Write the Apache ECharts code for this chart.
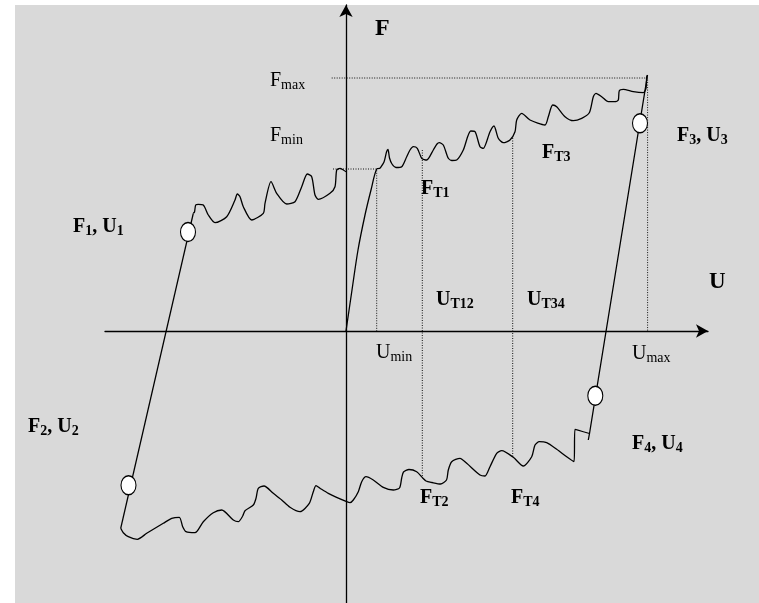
<!DOCTYPE html>
<html>
<head>
<meta charset="utf-8">
<script src="https://cdn.jsdelivr.net/npm/echarts@6/dist/echarts.min.js"></script>
<style>html,body{margin:0;padding:0;background:#fff}#c{width:759px;height:603px}</style>
</head>
<body>
<div id="c"></div>
<script>
// Hysteresis loop (U, F) in drawing units; origin at axis crossing
const originRise = [[0,0],[6,41],[12,81],[19,116],[25,141],[30.7,162],[34,162.7]];
const upperRight = [[34,162.7],[38,169],[40.5,179],[42,181.5],[43.5,173],[46,167],[50,163.5],[55.7,164.3],[60.7,174.3],[64,181],[67.3,184.3],[71.3,182.7],[75.7,172.7],[80.7,171],[87.3,181],[91,187],[93.3,188.3],[97.3,186],[102.3,172.7],[106,170.5],[110.7,171],[117.3,181],[124.7,200],[129,199.3],[134,184.3],[137.3,182.7],[144,199.3],[148,205],[152.3,192.7],[157.3,188.3],[164,191],[169,199.3],[170.7,211],[175.7,217.7],[184,211],[199,206],[202.3,214.3],[206.7,226],[210.7,224.3],[219,214.3],[227.3,210.3],[235.7,212.7],[243.3,218.3],[247.3,234.3],[250,237.7],[255.7,234.3],[262.3,229.3],[269,229.3],[272.3,231],[273.3,240.3],[277.3,241.7],[287.3,239.3],[297.3,238.3],[300,242.7],[300.7,254.3],[301.5,256]];
const rightLine = [[301.5,256],[243.5,-102.5],[242.3,-109]];
const lowerBranch = [[243.5,-102.5],[229,-98.3],[228,-130.7],[220.7,-125.7],[210.7,-118.3],[200.7,-111.7],[193.3,-110.7],[189,-114],[185.7,-125.7],[177.3,-135],[167.3,-126.3],[155.7,-119.7],[150.7,-122.3],[144,-135.7],[139,-145],[134,-144],[120.7,-132.3],[114,-127.3],[105.7,-130.7],[102.3,-139],[100.5,-149],[94.5,-153],[86,-151.5],[80,-150],[76.7,-147],[70.7,-140.7],[63,-138.5],[57.5,-141],[55.7,-147],[53.5,-157],[47.3,-159],[37.3,-156.3],[27.3,-149],[20,-145.7],[15.7,-150.7],[12.3,-160.7],[7.3,-169],[4,-171.7],[0.7,-170.7],[-17.7,-162.3],[-26,-157.3],[-30,-154.7],[-32.7,-160.7],[-36.7,-172.3],[-46,-180.7],[-56,-176.3],[-64.3,-169],[-72.7,-162.3],[-82,-155],[-87.7,-157.3],[-90,-167.3],[-92.7,-174],[-101,-179.7],[-103.3,-185],[-107.7,-190.7],[-112.7,-189],[-124.3,-179],[-132.7,-181.7],[-142.7,-190.7],[-151,-201.7],[-160,-200.7],[-163.3,-195.7],[-166.7,-186.3],[-174.3,-187.3],[-182.7,-192.3],[-199.3,-202.3],[-208.7,-208.3],[-217.7,-205.7],[-222.7,-201.7],[-225.3,-197.3]];
const leftLine = [[-225.3,-197.3],[-152.7,117.7]];
const upperLeft = [[-152.7,117.7],[-151.5,119],[-150.3,126],[-147.7,126.7],[-142.7,126],[-137.7,116],[-131,108.3],[-119.3,114.3],[-111,131],[-108.7,137],[-106,134.3],[-102.7,124.3],[-94.3,111],[-82.7,117.7],[-81,127.7],[-75,149.3],[-69.3,137.7],[-59.3,127],[-51,129.3],[-44.3,144.3],[-38.7,157],[-34.3,154.3],[-31,136],[-27.7,131.7],[-16,137.7],[-11,144.3],[-9.3,161],[-6,162.7],[-2.7,161],[0,159.3]];

// Reference (dotted) lines
const fmaxGuide = [[-14.3,253],[301.6,253],[301.6,0]];
const fminGuide = [[-13,162],[30.7,162],[30.7,0]];
const ut12Guide = [[76.3,181],[76.3,-145]];
const ut34Guide = [[166.7,193],[166.7,-126]];

// Marked points F1..F4
const markPts = [[-158,99],[-217.5,-154.3],[294,207.7],[249.3,-64.7]];

const chart = echarts.init(document.getElementById('c'), null, {renderer:'canvas'});

const SERIF = '"Liberation Serif", "Times New Roman", serif';
const mctx = document.createElement('canvas').getContext('2d');
function fontStr(bold, size){ return (bold?'bold ':'') + size + 'px ' + SERIF; }
function lab(x, base, parts, bold, size, subSize, subDrop){
  const els = [];
  let cx = x;
  parts.forEach(function(p){
    const isSub = p[1];
    const sz = isSub ? subSize : size;
    const f = fontStr(bold, sz);
    mctx.font = f;
    const w = mctx.measureText(p[0]).width;
    const by = base + (isSub ? subDrop : 0);
    els.push({type:'text', z:100, style:{x:cx, y:by - 0.305*sz, text:p[0], font:f, fill:'#000', align:'left', verticalAlign:'middle'}});
    cx += w;
  });
  return els;
}

let g = [{type:'rect', z:-10, shape:{x:15,y:5,width:744,height:598}, style:{fill:'#d9d9d9'}}];
g = g.concat(
  lab(375, 36, [['F',false]], true, 24, 16, 0),
  lab(709, 289, [['U',false]], true, 23, 16, 0),
  lab(270, 87, [['F',false],['max',true]], false, 20, 14, 2.5),
  lab(270, 142, [['F',false],['min',true]], false, 20, 14, 2.5),
  lab(376, 359, [['U',false],['min',true]], false, 20, 14, 2.5),
  lab(632, 360, [['U',false],['max',true]], false, 20, 14, 2.5),
  lab(421, 195, [['F',false],['T1',true]], true, 20, 14, 2.5),
  lab(542, 159, [['F',false],['T3',true]], true, 20, 14, 2.5),
  lab(677, 142, [['F',false],['3',true],[', U',false],['3',true]], true, 20, 14, 2.5),
  lab(73, 233, [['F',false],['1',true],[', U',false],['1',true]], true, 20, 14, 2.5),
  lab(28, 433, [['F',false],['2',true],[', U',false],['2',true]], true, 20, 14, 2.5),
  lab(632, 450, [['F',false],['4',true],[', U',false],['4',true]], true, 20, 14, 2.5),
  lab(436, 306, [['U',false],['T12',true]], true, 20, 14, 2.5),
  lab(527, 306, [['U',false],['T34',true]], true, 20, 14, 2.5),
  lab(420, 504, [['F',false],['T2',true]], true, 20, 14, 2.5),
  lab(511, 504, [['F',false],['T4',true]], true, 20, 14, 2.5)
);

const dotted = {color:'#111', width:1, type:[1,1.5]};
function guide(d){ return {type:'line', data:d, showSymbol:false, symbol:'none', z:3, lineStyle:dotted, silent:true}; }
function curve(d, sm){ return {type:'line', data:d, showSymbol:false, symbol:'none', smooth:sm, z:5, lineStyle:{color:'#000', width:1.3}, silent:true}; }

chart.setOption({
  animation:false,
  backgroundColor:'#ffffff',
  grid:{left:105, right:51, top:5, bottom:0, containLabel:false},
  xAxis:{type:'value', min:-241, max:362, axisLine:{show:true,onZero:true,symbol:['none','arrow'],symbolSize:[10,12],lineStyle:{color:'#000',width:1.3}}, axisTick:{show:false}, axisLabel:{show:false}, splitLine:{show:false}},
  yAxis:{type:'value', min:-272, max:326, axisLine:{show:true,onZero:true,symbol:['none','arrow'],symbolSize:[10,12],lineStyle:{color:'#000',width:1.3}}, axisTick:{show:false}, axisLabel:{show:false}, splitLine:{show:false}},
  graphic:g,
  series:[
    guide(fmaxGuide), guide(fminGuide), guide(ut12Guide), guide(ut34Guide),
    curve(originRise, 0.3), curve(upperRight, 0.25), curve(rightLine, false),
    curve(lowerBranch, 0.25), curve(leftLine, false), curve(upperLeft, 0.25),
    {type:'scatter', data:markPts, symbol:'circle', symbolSize:[15,19], z:10, itemStyle:{color:'#fff', borderColor:'#000', borderWidth:1.2, opacity:1}}
  ]
});
</script>
</body>
</html>
